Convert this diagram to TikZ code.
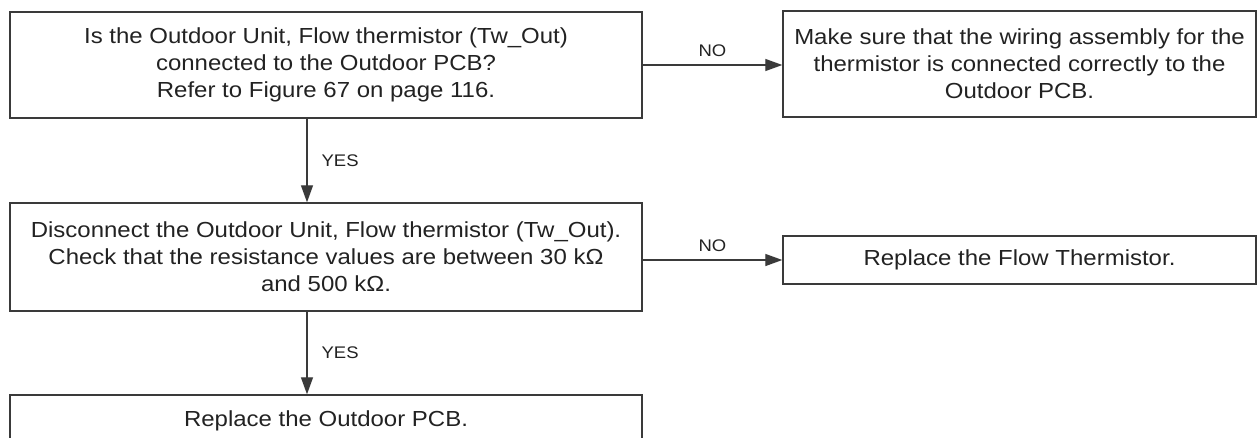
\documentclass[tikz,border=0pt]{standalone}
\usepackage{fontspec}
\setmainfont{Liberation Sans}[FakeStretch=1.1]
\usetikzlibrary{arrows.meta}
\definecolor{linec}{HTML}{3A3A3A}
\definecolor{textc}{HTML}{222222}
\tikzset{
  box/.style={draw=linec, line width=1.4pt, inner sep=0pt, align=center, text=textc,
    font=\fontsize{21.8}{27}\selectfont},
  conn/.style={draw=linec, line width=1.3pt, -{Triangle[length=17pt,width=12pt]}},
  lbl/.style={text=textc, font=\fontsize{16.8}{20}\selectfont, inner sep=0pt}
}
\begin{document}
\begin{tikzpicture}[x=1pt,y=-1pt]
\useasboundingbox (0,0) rectangle (1257,437);
\clip (0,0) rectangle (1257,437);
\node[box, minimum width=632pt, minimum height=106pt] (b1) at (326,65)
  {Is the Outdoor Unit, Flow thermistor (Tw\_Out)\\connected to the Outdoor PCB?\\Refer to Figure 67 on page 116.};
\node[box, minimum width=473pt, minimum height=106pt] (b2) at (1019.5,64)
  {Make sure that the wiring assembly for the\\thermistor is connected correctly to the\\Outdoor PCB.};
\node[box, minimum width=632pt, minimum height=108pt] (b3) at (326,257)
  {Disconnect the Outdoor Unit, Flow thermistor (Tw\_Out).\\Check that the resistance values are between 30 kΩ\\and 500 kΩ.};
\node[box, minimum width=473pt, minimum height=48pt] (b4) at (1019.5,260)
  {Replace the Flow Thermistor.};
\node[box, minimum width=632pt, minimum height=52pt] (b5) at (326,421)
  {Replace the Outdoor PCB.};
\coordinate (ax) at (307,0);
\draw[conn] (b1.east) -- (b1.east -| b2.west) node[lbl, midway, above=8pt] {NO};
\draw[conn] (b4.west -| b3.east) -- (b4.west) node[lbl, midway, above=8pt] {NO};
\draw[conn] (b1.south -| ax) -- (b3.north -| ax) node[lbl, midway, right=14pt] {YES};
\draw[conn] (b3.south -| ax) -- (b5.north -| ax) node[lbl, midway, right=14pt] {YES};
\end{tikzpicture}
\end{document}
